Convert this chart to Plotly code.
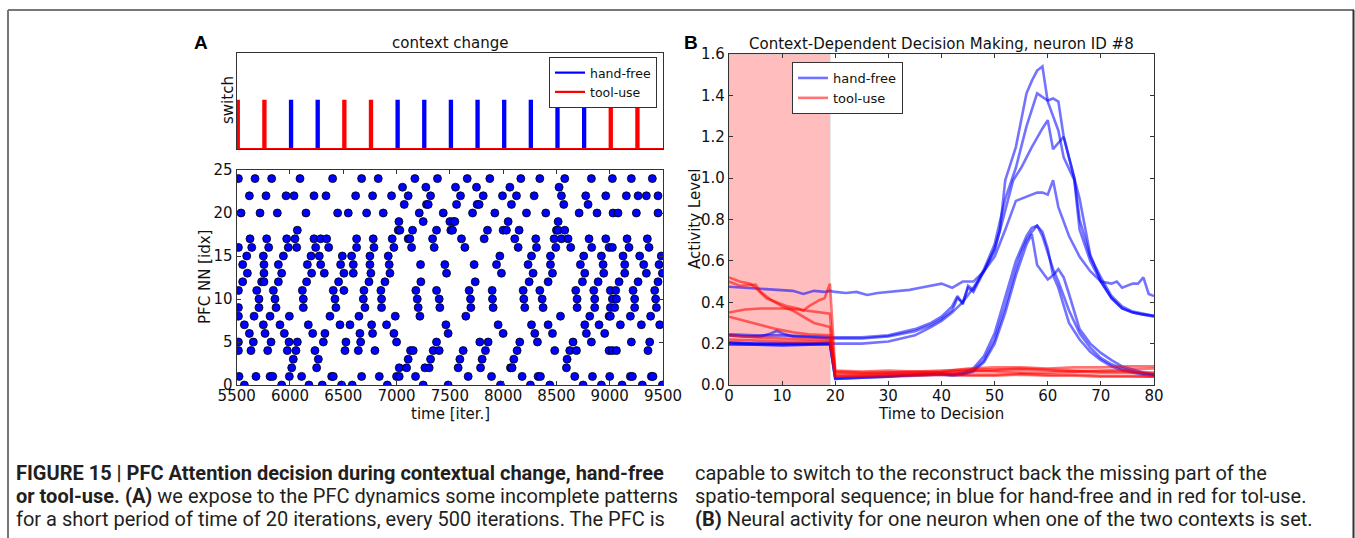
import plotly.graph_objects as go

W, H = 1355, 538

# ---------------- Panel A (top): context switches ----------------
switch_times = [5500, 5750, 6000, 6250, 6500, 6750, 7000, 7250, 7500, 7750,
                8000, 8250, 8500, 8750, 9000, 9250]
switch_context = ["tool-use", "tool-use", "hand-free", "hand-free", "tool-use", "tool-use",
                  "hand-free", "hand-free", "hand-free", "hand-free", "hand-free", "hand-free",
                  "hand-free", "hand-free", "tool-use", "tool-use"]
switch_duration = 20
switch_level = 1
time_range = [5500, 9500]

# ---------------- Panel A (bottom): PFC raster (spike times per neuron) ----------------
n24 = [5516, 5672, 5828, 6094, 6400, 6672, 6828, 7172, 7384, 7663, 7875, 8166, 8344, 8578, 8828, 9025, 9203, 9400]
n23 = [7056, 7275, 7553, 7750, 8063, 8525]
n22 = [5619, 5775, 5963, 6038, 6225, 6338, 6616, 6775, 6953, 7109, 7319, 7600, 7813, 7994, 8125, 8291, 8547, 8775, 8963, 9156, 9266, 9344, 9453]
n21 = [7072, 7281, 7297, 7563, 7756, 7775, 8078, 8569, 8797]
n20 = [5541, 5719, 5881, 6150, 6447, 6547, 6719, 6875, 7213, 7438, 7713, 7922, 8219, 8400, 8713, 8881, 9031, 9078, 9250, 9453]
n19 = [7022, 7250, 7500, 7531, 7547, 8047, 8516]
n18 = [6069, 7016, 7031, 7150, 7375, 7509, 7525, 7853, 8000, 8031, 8150, 8500, 8516, 8578]
n17 = [5625, 5781, 5969, 6047, 6225, 6288, 6344, 6625, 6781, 6959, 7109, 7125, 7338, 7609, 7822, 8109, 8306, 8478, 8547, 8609, 8806, 8963, 9163, 9353]
n16 = [5516, 5641, 5800, 5984, 6063, 6241, 6363, 6625, 6788, 6975, 7141, 7353, 7641, 8141, 8313, 8494, 8634, 8831, 8994, 9025, 9181, 9369]
n15 = [5594, 5750, 5938, 6197, 6275, 6491, 6578, 6750, 6922, 7969, 8266, 8444, 8756, 8922, 9125, 9281, 9484]
n14 = [5556, 5756, 5891, 6163, 6288, 6475, 6594, 6750, 6931, 7225, 7453, 7728, 7938, 8234, 8444, 8725, 8938, 9141, 9319, 9463]
n13 = [5600, 5756, 5922, 6203, 6322, 6506, 6594, 6759, 6938, 7469, 7984, 8281, 8463, 8766, 8944, 9141, 9344, 9494]
n12 = [5556, 5734, 5756, 5891, 6156, 6456, 6741, 6891, 7228, 7738, 8244, 8422, 8744, 8891, 9088, 9266, 9453]
n11 = [5516, 5688, 5844, 6116, 6406, 6506, 6694, 6853, 7181, 7375, 7681, 7897, 8188, 8344, 8681, 8850, 9006, 9056, 9219, 9422]
n10 = [5709, 5859, 6125, 6422, 6688, 6859, 7194, 7400, 7694, 7900, 8194, 8366, 8694, 8859, 9025, 9063, 9234, 9431]
n09 = [5516, 5709, 5869, 6125, 6431, 6703, 6859, 7203, 7406, 7697, 7906, 8203, 8375, 8694, 8859, 9006, 9047, 9234, 9438]
n08 = [5516, 5663, 5813, 5994, 6375, 6647, 6988, 7219, 7650, 8538, 8813, 8994, 9006, 9194, 9384]
n07 = [5572, 5750, 5906, 6172, 6469, 6563, 6766, 6906, 7463, 7953, 8266, 8422, 8766, 8900, 9100, 9297, 9469]
n06 = [5619, 5766, 5947, 6213, 6328, 6656, 6775, 6975, 7484, 8000, 8297, 8463, 8781, 8953]
n05 = [5516, 5656, 5822, 5991, 6069, 6313, 6525, 6663, 7000, 7375, 7781, 7859, 8156, 8322, 8656, 8828, 9203, 9375]
n04 = [5516, 5634, 5791, 5975, 6056, 6234, 6516, 6641, 6797, 7131, 7156, 7344, 7400, 7625, 7834, 8131, 8484, 8625, 8688, 8994, 9025, 9063, 9359]
n03 = [6031, 6266, 7109, 7319, 7594, 7803, 8100, 8600]
n02 = [6016, 6250, 7025, 7094, 7266, 7306, 7578, 7788, 8069, 8084, 8594]
n01 = [5522, 5681, 5813, 5838, 5994, 6109, 6391, 6406, 6672, 6838, 7000, 7025, 7178, 7672, 7891, 8178, 8328, 8350, 8672, 8838, 9000, 9194, 9213, 9391, 9406]
n00 = [5572, 5922, 6178, 6303, 6484, 6584, 6913, 7250, 7484, 7975, 8256, 8438, 8750, 8922, 9116, 9306, 9494]
raster_rows = [n00, n01, n02, n03, n04, n05, n06, n07, n08, n09, n10, n11, n12,
               n13, n14, n15, n16, n17, n18, n19, n20, n21, n22, n23, n24]
time_ticks = [5500, 6000, 6500, 7000, 7500, 8000, 8500, 9000, 9500]
neuron_ticks = [0, 5, 10, 15, 20, 25]

# ---------------- Panel B: neuron #8 activity ----------------
hf1_t = [0, 3, 6, 8, 9, 10, 12, 15, 19, 20, 25, 30, 35, 38, 40, 42, 43, 44, 45, 46, 48, 50, 51, 52, 54, 56, 57, 58, 59, 60, 62, 63, 65, 66, 68, 70, 72, 74, 76, 78, 80]
hf1_v = [0.24, 0.235, 0.235, 0.25, 0.262, 0.25, 0.235, 0.23, 0.225, 0.225, 0.225, 0.235, 0.26, 0.29, 0.32, 0.36, 0.42, 0.40, 0.47, 0.45, 0.55, 0.66, 0.75, 0.99, 1.15, 1.41, 1.47, 1.52, 1.54, 1.37, 1.23, 1.10, 0.99, 0.75, 0.60, 0.50, 0.42, 0.37, 0.35, 0.34, 0.33]
hf2_t = [0, 5, 10, 15, 19, 20, 25, 30, 35, 38, 40, 42, 43, 44, 45, 46, 48, 50, 52, 54, 56, 58, 60, 61, 62, 63, 65, 66, 68, 70, 72, 74, 76, 78, 80]
hf2_v = [0.245, 0.24, 0.24, 0.235, 0.23, 0.23, 0.23, 0.24, 0.27, 0.30, 0.33, 0.38, 0.43, 0.39, 0.48, 0.46, 0.56, 0.68, 0.90, 1.05, 1.25, 1.41, 1.375, 1.385, 1.37, 1.20, 1.00, 0.80, 0.62, 0.52, 0.43, 0.38, 0.355, 0.345, 0.335]
hf3_t = [0, 5, 10, 15, 19, 20, 25, 30, 35, 38, 40, 42, 44, 46, 48, 50, 52, 53.5, 55, 57, 59, 60, 61, 63, 66, 68, 70, 72, 74, 76, 78, 80]
hf3_v = [0.205, 0.2, 0.2, 0.2, 0.2, 0.2, 0.2, 0.21, 0.24, 0.28, 0.31, 0.35, 0.40, 0.47, 0.55, 0.65, 0.85, 0.99, 1.05, 1.15, 1.24, 1.28, 1.14, 1.20, 0.90, 0.63, 0.50, 0.42, 0.37, 0.35, 0.34, 0.335]
hf4_t = [0, 3, 6, 9, 12, 14, 16, 18, 19, 20, 22, 24, 26, 28, 30, 32, 34, 36, 38, 40, 42, 44, 46, 48, 50, 52, 54, 56, 58, 59, 60, 61, 62, 64, 66, 68, 70, 72, 73, 74, 76, 77, 78, 79, 80]
hf4_v = [0.475, 0.47, 0.465, 0.46, 0.455, 0.44, 0.455, 0.45, 0.455, 0.45, 0.445, 0.45, 0.435, 0.445, 0.45, 0.455, 0.46, 0.47, 0.48, 0.49, 0.47, 0.50, 0.50, 0.55, 0.62, 0.75, 0.89, 0.91, 0.93, 0.93, 0.92, 0.99, 0.86, 0.72, 0.62, 0.55, 0.50, 0.49, 0.50, 0.47, 0.49, 0.49, 0.52, 0.44, 0.43]
hf5_t = [0, 5, 10, 15, 19, 20, 25, 30, 35, 40, 42, 44, 46, 48, 50, 52, 54, 55, 56, 57, 58, 59, 60, 61, 62, 63, 64, 66, 68, 70, 72, 74, 76, 78, 80]
hf5_v = [0.205, 0.2, 0.2, 0.2, 0.205, 0.035, 0.04, 0.045, 0.05, 0.055, 0.05, 0.055, 0.07, 0.12, 0.22, 0.38, 0.56, 0.64, 0.70, 0.74, 0.77, 0.74, 0.66, 0.53, 0.56, 0.52, 0.44, 0.27, 0.20, 0.155, 0.12, 0.09, 0.075, 0.06, 0.05]
hf6_t = [0, 5, 10, 15, 19, 20, 25, 30, 35, 40, 42, 44, 46, 48, 50, 52, 54, 56, 57, 58, 60, 61, 62, 64, 66, 68, 70, 72, 74, 76, 78, 80]
hf6_v = [0.2, 0.195, 0.195, 0.195, 0.2, 0.03, 0.035, 0.04, 0.045, 0.05, 0.045, 0.05, 0.065, 0.11, 0.20, 0.35, 0.53, 0.68, 0.73, 0.58, 0.51, 0.53, 0.47, 0.30, 0.22, 0.16, 0.12, 0.09, 0.07, 0.06, 0.05, 0.045]
hf7_t = [0, 5, 10, 15, 19, 20, 25, 30, 35, 40, 42, 44, 46, 48, 50, 52, 54, 56, 57, 58, 59, 60, 61, 62, 64, 66, 68, 70, 72, 74, 76, 78, 80]
hf7_v = [0.195, 0.195, 0.19, 0.195, 0.195, 0.03, 0.035, 0.04, 0.05, 0.055, 0.05, 0.06, 0.08, 0.14, 0.25, 0.42, 0.60, 0.72, 0.76, 0.77, 0.72, 0.64, 0.56, 0.50, 0.36, 0.25, 0.18, 0.13, 0.10, 0.08, 0.065, 0.055, 0.05]

tu1_t = [0, 2, 4, 5, 7, 9, 11, 13, 14, 15, 17, 18, 19, 20, 25, 30, 35, 40, 45, 50, 55, 60, 65, 70, 75, 80]
tu1_v = [0.52, 0.50, 0.49, 0.47, 0.42, 0.40, 0.38, 0.37, 0.36, 0.38, 0.41, 0.42, 0.49, 0.07, 0.065, 0.07, 0.065, 0.07, 0.075, 0.075, 0.08, 0.075, 0.07, 0.065, 0.065, 0.06]
tu2_t = [0, 2, 5, 6, 8, 10, 12, 14, 16, 19, 20, 25, 30, 35, 40, 45, 50, 55, 60, 65, 70, 75, 80]
tu2_v = [0.50, 0.48, 0.485, 0.45, 0.41, 0.38, 0.36, 0.33, 0.30, 0.28, 0.06, 0.055, 0.06, 0.06, 0.065, 0.08, 0.085, 0.085, 0.08, 0.085, 0.085, 0.09, 0.09]
tu3_t = [0, 3, 6, 10, 13, 16, 19, 20, 25, 30, 35, 40, 45, 50, 55, 60, 65, 70, 75, 80]
tu3_v = [0.35, 0.365, 0.37, 0.37, 0.365, 0.355, 0.345, 0.05, 0.05, 0.055, 0.055, 0.06, 0.065, 0.07, 0.075, 0.07, 0.065, 0.06, 0.06, 0.055]
tu4_t = [0, 3, 6, 9, 12, 15, 19, 20, 25, 30, 35, 40, 45, 50, 55, 60, 65, 70, 75, 80]
tu4_v = [0.33, 0.31, 0.29, 0.27, 0.255, 0.245, 0.24, 0.045, 0.045, 0.05, 0.05, 0.055, 0.05, 0.05, 0.055, 0.05, 0.05, 0.045, 0.045, 0.04]
tu5_t = [0, 5, 10, 15, 19, 20, 25, 30, 35, 40, 45, 50, 55, 60, 65, 70, 75, 80]
tu5_v = [0.24, 0.23, 0.225, 0.22, 0.22, 0.065, 0.06, 0.06, 0.065, 0.06, 0.07, 0.065, 0.06, 0.06, 0.065, 0.07, 0.075, 0.08]
tu6_t = [0, 5, 10, 15, 19, 20, 25, 30, 35, 40, 45, 50, 55, 60, 65, 70, 75, 80]
tu6_v = [0.22, 0.215, 0.21, 0.21, 0.21, 0.04, 0.04, 0.045, 0.045, 0.05, 0.045, 0.045, 0.05, 0.045, 0.045, 0.04, 0.04, 0.04]

context_window = [0, 19]
decision_ticks = [0, 10, 20, 30, 40, 50, 60, 70, 80]
activity_ticks = [0.0, 0.2, 0.4, 0.6, 0.8, 1.0, 1.2, 1.4, 1.6]

caption_left = [
    "<b>FIGURE 15 | PFC Attention decision during contextual change, hand-free</b>",
    "<b>or tool-use. (A)</b> we expose to the PFC dynamics some incomplete patterns",
    "for a short period of time of 20 iterations, every 500 iterations. The PFC is",
]
caption_right = [
    "capable to switch to the reconstruct back the missing part of the",
    "spatio-temporal sequence; in blue for hand-free and in red for tol-use.",
    "<b>(B)</b> Neural activity for one neuron when one of the two contexts is set.",
]

# ---------------- helpers ----------------
def px_x(p):
    return p / W

def px_y(p):
    return 1 - p / H

FONT = "DejaVu Sans"
AX = "#333333"
BLUE = "#0000FF"
RED = "#FF0000"
BLUE_A = "rgba(0,0,255,0.55)"
RED_A = "rgba(255,0,0,0.55)"

fig = go.Figure()

# Panel A top: pulse trains per context (blue first, red drawn on top)
for ctx, col in [("hand-free", BLUE), ("tool-use", RED)]:
    xs = [time_range[0]]
    ys = [0]
    for t, c in zip(switch_times, switch_context):
        if c == ctx:
            xs += [t, t, t + switch_duration, t + switch_duration]
            ys += [0, switch_level, switch_level, 0]
    xs.append(time_range[1])
    ys.append(0)
    fig.add_trace(go.Scatter(x=xs, y=ys, mode="lines", name=ctx,
                             line=dict(color=col, width=2.2), legend="legend",
                             xaxis="x", yaxis="y"))

# Panel A bottom: raster
rx, ry = [], []
for nid, times in enumerate(raster_rows):
    rx += times
    ry += [nid] * len(times)
fig.add_trace(go.Scatter(x=rx, y=ry, mode="markers", showlegend=False,
                         marker=dict(size=8, color=BLUE, line=dict(color="black", width=0.8)),
                         xaxis="x2", yaxis="y2"))

# Panel B lines
hf_lines = [(hf1_t, hf1_v), (hf2_t, hf2_v), (hf3_t, hf3_v), (hf4_t, hf4_v),
            (hf5_t, hf5_v), (hf6_t, hf6_v), (hf7_t, hf7_v)]
tu_lines = [(tu1_t, tu1_v), (tu2_t, tu2_v), (tu3_t, tu3_v),
            (tu4_t, tu4_v), (tu5_t, tu5_v), (tu6_t, tu6_v)]
for i, (t, v) in enumerate(hf_lines):
    fig.add_trace(go.Scatter(x=t, y=v, mode="lines", name="hand-free",
                             legendgroup="hf", showlegend=(i == 0), legend="legend2",
                             line=dict(color=BLUE_A, width=2.6),
                             xaxis="x3", yaxis="y3"))
for i, (t, v) in enumerate(tu_lines):
    fig.add_trace(go.Scatter(x=t, y=v, mode="lines", name="tool-use",
                             legendgroup="tu", showlegend=(i == 0), legend="legend2",
                             line=dict(color=RED_A, width=2.6),
                             xaxis="x3", yaxis="y3"))

axis_common = dict(showline=True, linecolor=AX, linewidth=1.3, mirror="ticks",
                   ticks="inside", ticklen=4, tickcolor=AX, showgrid=False,
                   zeroline=False, tickfont=dict(family=FONT, size=15, color="#111"),
                   automargin=False)

fig.update_layout(
    width=W, height=H, autosize=False,
    margin=dict(l=0, r=0, t=0, b=0),
    paper_bgcolor="white", plot_bgcolor="white",
    xaxis=dict(domain=[px_x(236.7), px_x(663)], range=time_range,
               showline=True, linecolor=AX, linewidth=1.3, mirror=True,
               showticklabels=False, ticks="", showgrid=False, zeroline=False),
    yaxis=dict(domain=[px_y(149), px_y(52.7)], range=[0, 2],
               showline=True, linecolor=AX, linewidth=1.3, mirror=True,
               showticklabels=False, ticks="", showgrid=False, zeroline=False),
    xaxis2=dict(domain=[px_x(236.7), px_x(663)], range=time_range, anchor="y2",
                tickvals=time_ticks, ticktext=[str(v) for v in time_ticks],
                ticklabelstandoff=-3, **axis_common),
    yaxis2=dict(domain=[px_y(385), px_y(170)], range=[0, 25], anchor="x2",
                tickvals=neuron_ticks, ticktext=[str(v) for v in neuron_ticks], **axis_common),
    xaxis3=dict(domain=[px_x(729), px_x(1154)], range=[0, 80], anchor="y3",
                tickvals=decision_ticks, ticktext=[str(v) for v in decision_ticks],
                ticklabelstandoff=-3, **axis_common),
    yaxis3=dict(domain=[px_y(385), px_y(54)], range=[0, 1.6], anchor="x3",
                tickvals=activity_ticks, ticktext=[f"{v:.1f}" for v in activity_ticks], **axis_common),
    legend=dict(x=px_x(549), y=px_y(57), xanchor="left", yanchor="top",
                bgcolor="white", bordercolor=AX, borderwidth=1,
                font=dict(family=FONT, size=12.5, color="#111"), tracegroupgap=0),
    legend2=dict(x=px_x(792), y=px_y(62), xanchor="left", yanchor="top",
                 bgcolor="white", bordercolor=AX, borderwidth=1,
                 font=dict(family=FONT, size=13, color="#111"), tracegroupgap=0),
    showlegend=True,
)

# Shaded context window in panel B
fig.add_shape(type="rect", xref="x3", yref="y3", x0=context_window[0], x1=context_window[1],
              y0=0, y1=1.6, fillcolor="#FFBDBD", line=dict(color="#cccccc", width=1), layer="below")

# Page frame
frame = dict(color="#777777", width=2)
fig.add_shape(type="line", xref="paper", yref="paper", x0=px_x(8), x1=px_x(1354),
              y0=px_y(10), y1=px_y(10), line=frame)
fig.add_shape(type="line", xref="paper", yref="paper", x0=px_x(8), x1=px_x(8),
              y0=px_y(10), y1=0, line=frame)
fig.add_shape(type="line", xref="paper", yref="paper", x0=px_x(1353.5), x1=px_x(1353.5),
              y0=px_y(10), y1=0, line=dict(color="#333333", width=2))

def text(x, y, s, size=15, family=FONT, angle=0, xanchor="center", color="#111"):
    fig.add_annotation(x=px_x(x), y=px_y(y), xref="paper", yref="paper", text=s,
                       showarrow=False, textangle=angle, xanchor=xanchor, yanchor="middle",
                       font=dict(family=family, size=size, color=color))

# Titles, panel letters, axis titles
text(450, 43, "context change")
text(941, 44, "Context-Dependent Decision Making, neuron ID #8")
text(201, 43, "<b>A</b>", size=19, family="Liberation Sans", color="black")
text(691, 43, "<b>B</b>", size=19, family="Liberation Sans", color="black")
text(228, 100, "switch", angle=-90)
text(205, 277, "PFC NN [idx]", angle=-90)
text(450, 414, "time [iter.]")
text(695, 219, "Activity Level", angle=-90)
text(941, 414, "Time to Decision")

# Caption
cap_font = "Roboto, Liberation Sans"
for i, line in enumerate(caption_left):
    text(14, 473 + 23 * i, line, size=20, family=cap_font, xanchor="left", color="#231f20")
for i, line in enumerate(caption_right):
    text(693, 473 + 23 * i, line, size=20, family=cap_font, xanchor="left", color="#231f20")

fig.write_html("out.html", config={"displayModeBar": False},
               post_script="document.body.style.margin='0';")
